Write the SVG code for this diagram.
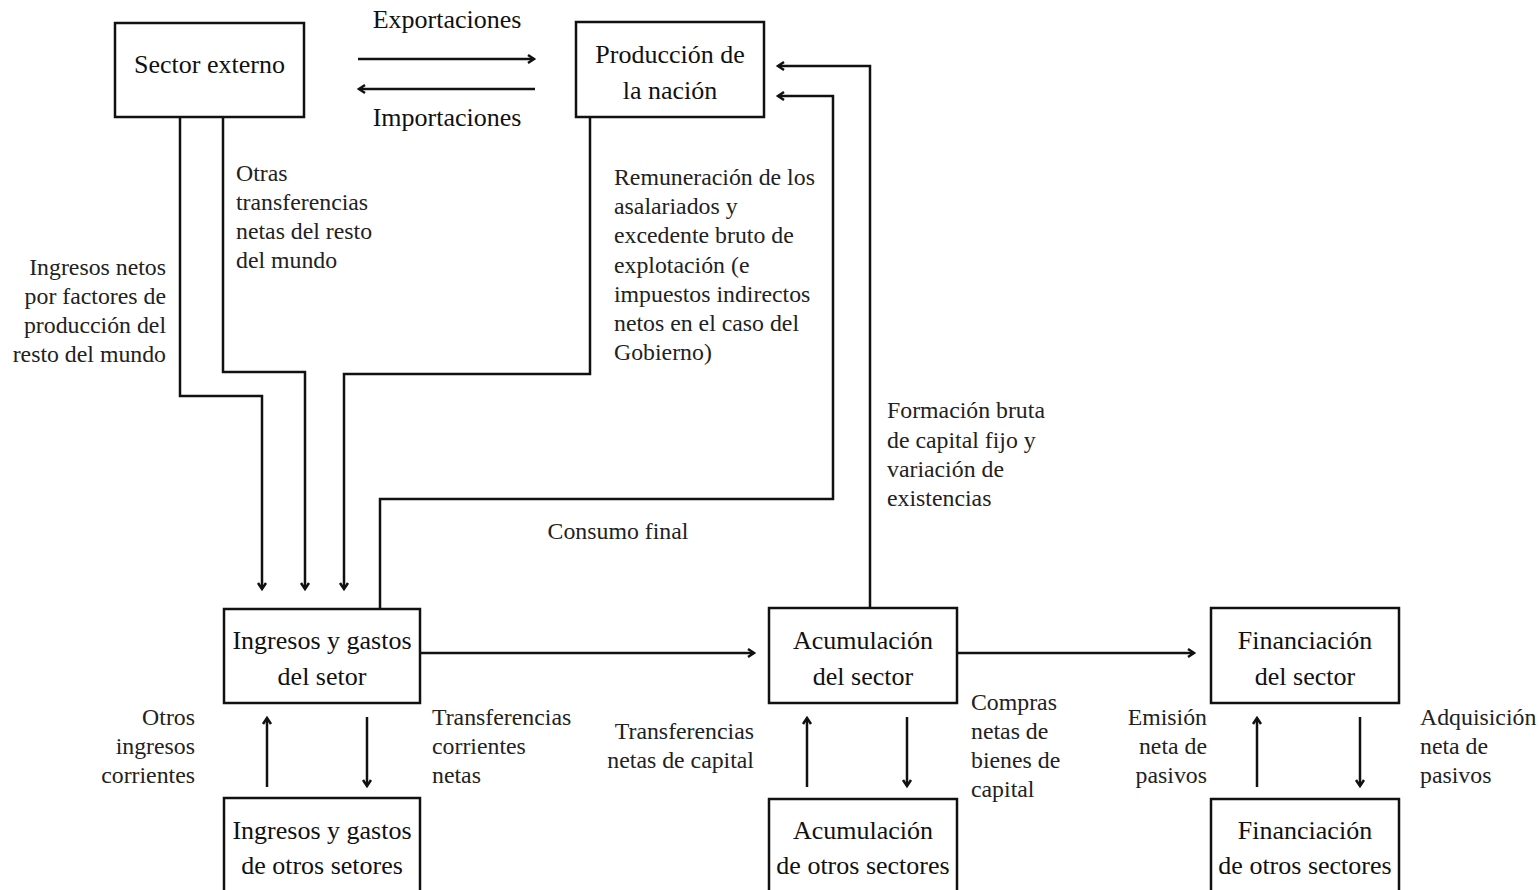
<svg xmlns="http://www.w3.org/2000/svg" width="1539" height="890" viewBox="0 0 1539 890">
<style>
.box{fill:#fff;stroke:#111;stroke-width:2.5}
.bt{font-family:'Liberation Serif','Times New Roman',serif;font-size:26px;fill:#111;text-anchor:middle}
.lt{font-family:'Liberation Serif','Times New Roman',serif;font-size:23.8px;fill:#222}
.fl{font-family:'Liberation Serif','Times New Roman',serif;font-size:26px;fill:#111;text-anchor:middle}
.r{text-anchor:end}
.c{fill:none;stroke:#111;stroke-width:2.5}
</style>
<defs>
<marker id="ah" markerUnits="userSpaceOnUse" markerWidth="14" markerHeight="14" refX="9" refY="6" orient="auto">
<path d="M3,2 L9,6 L3,10" fill="none" stroke="#111" stroke-width="2.5"/>
</marker>
</defs>
<rect width="1539" height="890" fill="#fff"/>
<g id="connectors">
<path class="c" d="M358,59 H534" marker-end="url(#ah)"/>
<path class="c" d="M535,89 H359" marker-end="url(#ah)"/>
<path class="c" d="M180,117 V396 H262 V589" marker-end="url(#ah)"/>
<path class="c" d="M223,117 V372 H305 V589" marker-end="url(#ah)"/>
<path class="c" d="M590,117 V374 H344 V589" marker-end="url(#ah)"/>
<path class="c" d="M380,609 V499 H833 V96 H778" marker-end="url(#ah)"/>
<path class="c" d="M870,608 V66 H778" marker-end="url(#ah)"/>
<path class="c" d="M420,653 H754" marker-end="url(#ah)"/>
<path class="c" d="M957,653 H1194" marker-end="url(#ah)"/>
<path class="c" d="M267,787 V718" marker-end="url(#ah)"/>
<path class="c" d="M807,787 V718" marker-end="url(#ah)"/>
<path class="c" d="M1257,787 V718" marker-end="url(#ah)"/>
<path class="c" d="M367,717 V786" marker-end="url(#ah)"/>
<path class="c" d="M907,717 V786" marker-end="url(#ah)"/>
<path class="c" d="M1360,717 V786" marker-end="url(#ah)"/>
</g>
<g id="labels">
<text class="fl" x="447" y="28">Exportaciones</text>
<text class="fl" x="447" y="126">Importaciones</text>
<text class="lt r" x="166"><tspan x="166" y="275">Ingresos netos</tspan><tspan x="166" y="304">por factores de</tspan><tspan x="166" y="333">producción del</tspan><tspan x="166" y="362">resto del mundo</tspan></text>
<text class="lt" x="236"><tspan x="236" y="181">Otras</tspan><tspan x="236" y="210">transferencias</tspan><tspan x="236" y="239">netas del resto</tspan><tspan x="236" y="268">del mundo</tspan></text>
<text class="lt" x="614"><tspan x="614" y="185">Remuneración de los</tspan><tspan x="614" y="214">asalariados y</tspan><tspan x="614" y="243">excedente bruto de</tspan><tspan x="614" y="273">explotación (e</tspan><tspan x="614" y="302">impuestos indirectos</tspan><tspan x="614" y="331">netos en el caso del</tspan><tspan x="614" y="360">Gobierno)</tspan></text>
<text class="lt" x="887"><tspan x="887" y="418">Formación bruta</tspan><tspan x="887" y="448">de capital fijo y</tspan><tspan x="887" y="477">variación de</tspan><tspan x="887" y="506">existencias</tspan></text>
<text class="lt" x="618" y="539" text-anchor="middle">Consumo final</text>
<text class="lt r" x="195"><tspan x="195" y="725">Otros</tspan><tspan x="195" y="754">ingresos</tspan><tspan x="195" y="783">corrientes</tspan></text>
<text class="lt" x="432"><tspan x="432" y="725">Transferencias</tspan><tspan x="432" y="754">corrientes</tspan><tspan x="432" y="783">netas</tspan></text>
<text class="lt r" x="754"><tspan x="754" y="739">Transferencias</tspan><tspan x="754" y="768">netas de capital</tspan></text>
<text class="lt" x="971"><tspan x="971" y="710">Compras</tspan><tspan x="971" y="739">netas de</tspan><tspan x="971" y="768">bienes de</tspan><tspan x="971" y="797">capital</tspan></text>
<text class="lt r" x="1207"><tspan x="1207" y="725">Emisión</tspan><tspan x="1207" y="754">neta de</tspan><tspan x="1207" y="783">pasivos</tspan></text>
<text class="lt" x="1420"><tspan x="1420" y="725">Adquisición</tspan><tspan x="1420" y="754">neta de</tspan><tspan x="1420" y="783">pasivos</tspan></text>
</g>
<g id="sector-externo"><rect class="box" x="115" y="23" width="189" height="94"/><text class="bt" x="209.5" y="73">Sector externo</text></g>
<g id="produccion"><rect class="box" x="576" y="22" width="188" height="95"/><text class="bt" x="670" y="63">Producción de</text><text class="bt" x="670" y="99">la nación</text></g>
<g id="ingresos"><rect class="box" x="224" y="609" width="196" height="94"/><text class="bt" x="322" y="649">Ingresos y gastos</text><text class="bt" x="322" y="685">del setor</text></g>
<g id="acumulacion"><rect class="box" x="769" y="608" width="188" height="95"/><text class="bt" x="863" y="649">Acumulación</text><text class="bt" x="863" y="685">del sector</text></g>
<g id="financiacion"><rect class="box" x="1211" y="608" width="188" height="95"/><text class="bt" x="1305" y="649">Financiación</text><text class="bt" x="1305" y="685">del sector</text></g>
<g id="ingresos-otros"><rect class="box" x="224" y="798" width="196" height="110"/><text class="bt" x="322" y="839">Ingresos y gastos</text><text class="bt" x="322" y="874">de otros setores</text></g>
<g id="acumulacion-otros"><rect class="box" x="769" y="799" width="188" height="110"/><text class="bt" x="863" y="839">Acumulación</text><text class="bt" x="863" y="874">de otros sectores</text></g>
<g id="financiacion-otros"><rect class="box" x="1211" y="799" width="188" height="110"/><text class="bt" x="1305" y="839">Financiación</text><text class="bt" x="1305" y="874">de otros sectores</text></g>
</svg>
